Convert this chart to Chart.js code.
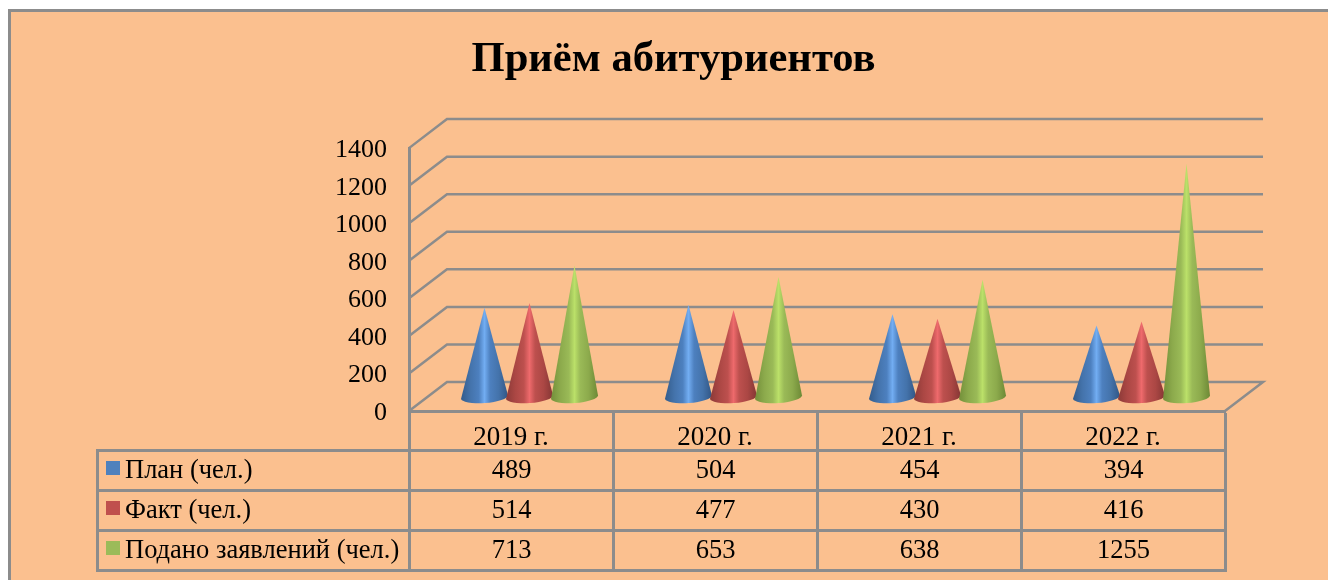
<!DOCTYPE html>
<html lang="ru">
<head>
<meta charset="utf-8">
<title>Приём абитуриентов</title>
<script src="https://cdn.jsdelivr.net/npm/chart.js@4/dist/chart.umd.min.js"></script>
<style>
    html, body { margin: 0; padding: 0; background: #fff; overflow: hidden; }
    #frame {
        position: absolute; left: 8px; top: 9px; width: 1317px; height: 568px;
        background: #fbc08f; border-left: 3px solid #8c8c8c; border-top: 3px solid #8c8c8c;
    }
    #chart { position: absolute; left: 0; top: 0; }
    #dataTable {
        position: absolute; left: 96px; top: 449px; width: 1129px;
        border-collapse: collapse; table-layout: fixed;
        font: 26.5px "Liberation Serif", serif; color: #000;
    }
    #dataTable td {
        border: 3px solid #8c8c8c; padding: 0 0 2px 0; text-align: center;
        height: 35px; line-height: 35px; overflow: visible;
    }
    #dataTable tr:last-child td { height: 34px; }
    #dataTable td.name { text-align: left; padding-left: 7px; white-space: nowrap; }
    .swatch { display: inline-block; width: 14px; height: 14px; margin-right: 5px; vertical-align: 3px; }
</style>
</head>
<body>
<div id="frame"></div>
<canvas id="chart" width="1328" height="580"></canvas>
<table id="dataTable"></table>
<script>
(function () {
    "use strict";

    const chartTitle = "Приём абитуриентов";
    const years = ["2019 г.", "2020 г.", "2021 г.", "2022 г."];
    const seriesNames = ["План (чел.)", "Факт (чел.)", "Подано заявлений (чел.)"];
    const planValues = [489, 504, 454, 394];
    const factValues = [514, 477, 430, 416];
    const appliedValues = [713, 653, 638, 1255];
    const seriesColors = ["#4f81bd", "#c0504d", "#9bbb59"];
    const coneShades = [
        ["#335c8c", "#4473ab", "#4d80bf", "#72adf2", "#4d80bf", "#4473ab", "#315685"],
        ["#8c3a38", "#ab4744", "#bd504e", "#ee6a6c", "#bd504e", "#ab4744", "#843634"],
        ["#738f3a", "#8caa4c", "#9aba57", "#bbe069", "#9aba57", "#8caa4c", "#6d8936"]
    ];

    const lineColor = "#8c8c8c";
    const serif = "'Liberation Serif', serif";
    const depthX = 38;
    const depthY = 29;

    // back wall and floor, the chart itself is a flat bar chart
    const wallPlugin = {
        id: "wall",
        beforeDatasetsDraw(chart) {
            const { ctx, scales } = chart;
            const left = scales.x.left;
            const right = scales.x.right;
            ctx.save();
            ctx.strokeStyle = lineColor;
            ctx.lineWidth = 2.5;
            scales.y.ticks.forEach((tick) => {
                const y = scales.y.getPixelForValue(tick.value);
                ctx.beginPath();
                ctx.moveTo(left, y);
                ctx.lineTo(left + depthX, y - depthY);
                ctx.lineTo(right + depthX, y - depthY);
                if (tick.value === 0) ctx.lineTo(right, y);
                ctx.stroke();
            });
            ctx.restore();
        }
    };

    const conePlugin = {
        id: "cones",
        afterDatasetsDraw(chart) {
            const { ctx, scales } = chart;
            const floorY = scales.y.getPixelForValue(0);
            ctx.save();
            chart.data.datasets.forEach((dataset, seriesIndex) => {
                chart.getDatasetMeta(seriesIndex).data.forEach((bar) => {
                    const cx = bar.x + 18.5;
                    const cy = floorY - 14;
                    const tipY = bar.y - 11.5;
                    const rx = bar.width / 2 + 1;
                    const tilt = -0.07;

                    const fill = ctx.createLinearGradient(cx - rx, 0, cx + rx, 0);
                    const stops = [0, 0.2, 0.38, 0.5, 0.62, 0.8, 1];
                    coneShades[seriesIndex].forEach((shade, i) => fill.addColorStop(stops[i], shade));

                    ctx.beginPath();
                    ctx.moveTo(cx, tipY);
                    ctx.lineTo(cx + rx * Math.cos(tilt), cy + rx * Math.sin(tilt));
                    ctx.ellipse(cx, cy, rx, 6, tilt, 0, Math.PI);
                    ctx.closePath();
                    ctx.fillStyle = fill;
                    ctx.fill();
                });
            });
            ctx.restore();
        }
    };

    new Chart(document.getElementById("chart"), {
        type: "bar",
        data: {
            labels: years,
            datasets: [planValues, factValues, appliedValues].map((values, i) => ({
                label: seriesNames[i],
                data: values,
                backgroundColor: "transparent",
                barPercentage: 1,
                categoryPercentage: 0.662
            }))
        },
        plugins: [wallPlugin, conePlugin],
        options: {
            responsive: false,
            animation: false,
            layout: { padding: { left: 122, right: 103, top: 0, bottom: 0 } },
            plugins: {
                legend: { display: false },
                tooltip: { enabled: false },
                title: {
                    display: true,
                    text: chartTitle,
                    color: "#000",
                    font: { family: serif, size: 42.6, weight: "bold", lineHeight: 1.2 },
                    padding: { top: 34, bottom: 63 }
                }
            },
            scales: {
                x: {
                    grid: { drawOnChartArea: false, drawTicks: true, tickLength: 39, tickColor: lineColor, tickWidth: 3 },
                    border: { display: true, color: lineColor, width: 3 },
                    ticks: { color: "#000", font: { family: serif, size: 27 }, padding: -28, maxRotation: 0 },
                    afterFit(scale) { scale.height = 169; }
                },
                y: {
                    min: 0,
                    max: 1400,
                    grid: { drawOnChartArea: false, drawTicks: false },
                    border: { display: true, color: lineColor, width: 3 },
                    ticks: {
                        stepSize: 200,
                        color: "#000",
                        font: { family: serif, size: 26 },
                        padding: 22,
                        labelOffset: 2,
                        callback: (value) => String(value)
                    },
                    afterFit(scale) { scale.width = 287; }
                }
            }
        }
    });

    // data table under the chart, one row per series
    const table = document.getElementById("dataTable");
    const colgroup = document.createElement("colgroup");
    [312, 204, 204, 204, 204].forEach((w) => {
        const col = document.createElement("col");
        col.style.width = w + "px";
        colgroup.appendChild(col);
    });
    table.appendChild(colgroup);

    [planValues, factValues, appliedValues].forEach((values, i) => {
        const row = table.insertRow();
        const nameCell = row.insertCell();
        nameCell.className = "name";
        const swatch = document.createElement("span");
        swatch.className = "swatch";
        swatch.style.background = seriesColors[i];
        nameCell.appendChild(swatch);
        nameCell.appendChild(document.createTextNode(seriesNames[i]));
        values.forEach((value) => {
            row.insertCell().textContent = value;
        });
    });
}());
</script>
</body>
</html>
